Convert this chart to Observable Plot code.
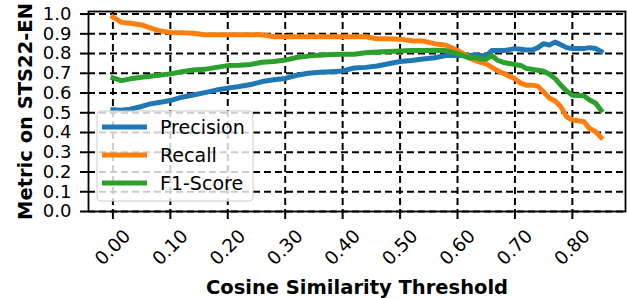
<!DOCTYPE html>
<html>
<head>
<meta charset="utf-8">
<script src="https://cdn.jsdelivr.net/npm/d3@7"></script>
<script src="https://cdn.jsdelivr.net/npm/@observablehq/plot@0.6"></script>
<style>
  html, body { margin: 0; padding: 0; background: #fff; }
  #chart { width: 627px; height: 298px; }
</style>
</head>
<body>
<div id="chart"></div>
<script>
const thresholds = [0, 0.015, 0.03, 0.05, 0.065, 0.08, 0.1, 0.12, 0.14, 0.16, 0.18, 0.2, 0.22, 0.24, 0.26, 0.28, 0.3, 0.32, 0.34, 0.36, 0.38, 0.4, 0.42, 0.44, 0.46, 0.48, 0.5, 0.52, 0.54, 0.56, 0.58, 0.6, 0.61, 0.62, 0.63, 0.64, 0.65, 0.66, 0.67, 0.68, 0.69, 0.7, 0.71, 0.72, 0.73, 0.74, 0.75, 0.76, 0.77, 0.78, 0.79, 0.8, 0.81, 0.82, 0.83, 0.84, 0.85];

const precision = [0.515, 0.513, 0.518, 0.532, 0.545, 0.552, 0.562, 0.579, 0.59, 0.602, 0.615, 0.625, 0.633, 0.643, 0.658, 0.667, 0.674, 0.69, 0.70, 0.705, 0.708, 0.712, 0.727, 0.73, 0.737, 0.748, 0.76, 0.765, 0.772, 0.779, 0.79, 0.792, 0.79, 0.79, 0.791, 0.79, 0.788, 0.815, 0.816, 0.815, 0.82, 0.825, 0.822, 0.818, 0.818, 0.83, 0.85, 0.843, 0.858, 0.845, 0.83, 0.826, 0.826, 0.825, 0.83, 0.826, 0.81];

const recall = [0.985, 0.958, 0.953, 0.945, 0.93, 0.916, 0.907, 0.905, 0.903, 0.895, 0.895, 0.895, 0.895, 0.895, 0.895, 0.885, 0.885, 0.885, 0.885, 0.885, 0.885, 0.885, 0.885, 0.885, 0.875, 0.875, 0.873, 0.865, 0.863, 0.85, 0.842, 0.815, 0.80, 0.78, 0.765, 0.755, 0.748, 0.73, 0.712, 0.70, 0.685, 0.673, 0.65, 0.64, 0.64, 0.635, 0.605, 0.575, 0.56, 0.53, 0.48, 0.463, 0.46, 0.455, 0.42, 0.405, 0.375];

const f1 = [0.677, 0.663, 0.672, 0.68, 0.685, 0.69, 0.697, 0.708, 0.717, 0.72, 0.73, 0.739, 0.741, 0.745, 0.756, 0.76, 0.767, 0.78, 0.787, 0.792, 0.795, 0.797, 0.797, 0.804, 0.808, 0.81, 0.813, 0.816, 0.816, 0.817, 0.815, 0.80, 0.788, 0.778, 0.78, 0.772, 0.771, 0.79, 0.765, 0.755, 0.75, 0.744, 0.74, 0.724, 0.72, 0.715, 0.71, 0.695, 0.673, 0.64, 0.61, 0.589, 0.588, 0.586, 0.565, 0.55, 0.513];

const seriesNames = ["Precision", "Recall", "F1-Score"];
const seriesColors = ["#1f77b4", "#ff7f0e", "#2ca02c"];
const xTicks = [0, 0.1, 0.2, 0.3, 0.4, 0.5, 0.6, 0.7, 0.8];
const yTicks = [0, 0.1, 0.2, 0.3, 0.4, 0.5, 0.6, 0.7, 0.8, 0.9, 1.0];
const xLabel = "Cosine Similarity Threshold";
const yLabel = "Metric on STS22-EN";

const seriesValues = [precision, recall, f1];
const rows = [];
seriesNames.forEach((name, i) => {
  thresholds.forEach((t, j) => rows.push({series: name, t, v: seriesValues[i][j]}));
});

const FONT = "DejaVu Sans";
const dash = "7,4";

const chart = Plot.plot({
  width: 627,
  height: 298,
  marginLeft: 88,
  marginRight: 2,
  marginTop: 11,
  marginBottom: 87,
  style: {fontFamily: FONT, color: "black", background: "white"},
  x: {domain: [-0.0425, 0.8925]},
  y: {domain: [0, 1.013]},
  color: {domain: seriesNames, range: seriesColors},
  marks: [
    Plot.gridY(yTicks, {stroke: "black", strokeOpacity: 1, strokeWidth: 2, strokeDasharray: dash}),
    Plot.gridX(xTicks, {stroke: "black", strokeOpacity: 1, strokeWidth: 2, strokeDasharray: dash}),
    Plot.axisY(yTicks, {tickSize: 8, tickPadding: 9, tickFormat: d3.format(".1f"), fontSize: 18, strokeWidth: 2, label: null}),
    Plot.axisX(xTicks, {tickSize: 8, tickFormat: () => "", strokeWidth: 2, label: null}),
    Plot.text(xTicks, {x: d => d, text: d3.format(".2f"), frameAnchor: "bottom", dy: 36, rotate: -45, textAnchor: "middle", lineAnchor: "middle", fontSize: 18.5}),
    Plot.line(rows, {x: "t", y: "v", z: "series", stroke: "series", strokeWidth: 5, strokeLinejoin: "round", strokeLinecap: "square"}),
    Plot.frame({stroke: "black", strokeWidth: 1.8}),
    Plot.text([xLabel], {text: d => d, frameAnchor: "bottom", dy: 76, textAnchor: "middle", lineAnchor: "middle", fontSize: 19.5, fontWeight: "bold"}),
    Plot.text([yLabel], {text: d => d, frameAnchor: "left", dx: -63, rotate: -90, textAnchor: "middle", lineAnchor: "middle", fontSize: 19.5, fontWeight: "bold"})
  ]
});

// Legend (matplotlib style box)
const svg = d3.select(chart);
const lg = svg.append("g").attr("font-family", FONT).attr("text-anchor", "start");
lg.append("rect")
  .attr("x", 97).attr("y", 111).attr("width", 156).attr("height", 90)
  .attr("rx", 4).attr("fill", "white").attr("fill-opacity", 0.8)
  .attr("stroke", "#cccccc").attr("stroke-width", 1);
seriesNames.forEach((name, i) => {
  const cy = 127 + i * 28;
  lg.append("line").attr("x1", 102).attr("x2", 147).attr("y1", cy).attr("y2", cy)
    .attr("stroke", seriesColors[i]).attr("stroke-width", 5);
  lg.append("text").attr("x", 160).attr("y", cy).attr("dy", "0.35em")
    .attr("text-anchor", "start")
    .attr("font-size", 19).attr("fill", "black").text(name);
});

document.getElementById("chart").appendChild(chart);
</script>
</body>
</html>
